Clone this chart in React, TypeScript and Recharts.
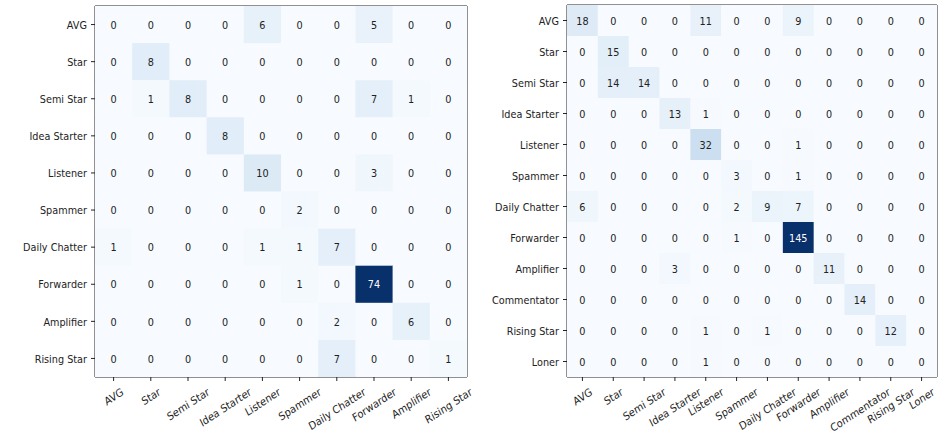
import React from "react";
import { ScatterChart, Scatter, XAxis, YAxis, ReferenceArea } from "recharts";

const leftClasses = [
  "AVG", "Star", "Semi Star", "Idea Starter", "Listener", "Spammer",
  "Daily Chatter", "Forwarder", "Amplifier", "Rising Star",
];
const leftCounts = [
  [0, 0, 0, 0, 6, 0, 0, 5, 0, 0],
  [0, 8, 0, 0, 0, 0, 0, 0, 0, 0],
  [0, 1, 8, 0, 0, 0, 0, 7, 1, 0],
  [0, 0, 0, 8, 0, 0, 0, 0, 0, 0],
  [0, 0, 0, 0, 10, 0, 0, 3, 0, 0],
  [0, 0, 0, 0, 0, 2, 0, 0, 0, 0],
  [1, 0, 0, 0, 1, 1, 7, 0, 0, 0],
  [0, 0, 0, 0, 0, 1, 0, 74, 0, 0],
  [0, 0, 0, 0, 0, 0, 2, 0, 6, 0],
  [0, 0, 0, 0, 0, 0, 7, 0, 0, 1],
];

const rightClasses = [
  "AVG", "Star", "Semi Star", "Idea Starter", "Listener", "Spammer",
  "Daily Chatter", "Forwarder", "Amplifier", "Commentator", "Rising Star", "Loner",
];
const rightCounts = [
  [18, 0, 0, 0, 11, 0, 0, 9, 0, 0, 0, 0],
  [0, 15, 0, 0, 0, 0, 0, 0, 0, 0, 0, 0],
  [0, 14, 14, 0, 0, 0, 0, 0, 0, 0, 0, 0],
  [0, 0, 0, 13, 1, 0, 0, 0, 0, 0, 0, 0],
  [0, 0, 0, 0, 32, 0, 0, 1, 0, 0, 0, 0],
  [0, 0, 0, 0, 0, 3, 0, 1, 0, 0, 0, 0],
  [6, 0, 0, 0, 0, 2, 9, 7, 0, 0, 0, 0],
  [0, 0, 0, 0, 0, 1, 0, 145, 0, 0, 0, 0],
  [0, 0, 0, 3, 0, 0, 0, 0, 11, 0, 0, 0],
  [0, 0, 0, 0, 0, 0, 0, 0, 0, 14, 0, 0],
  [0, 0, 0, 0, 1, 0, 1, 0, 0, 0, 12, 0],
  [0, 0, 0, 0, 1, 0, 0, 0, 0, 0, 0, 0],
];

const FONT = "'DejaVu Sans', sans-serif";
const FONT_SIZE = 11;
const SQUEEZE = 0.88; // glyphs are a little narrower than tall
const ANGLE = 30;
const INK = "#222";

// matplotlib "Blues" stops
const BLUES = [
  "#f7fbff", "#deebf7", "#c6dbef", "#9ecae1", "#6baed6",
  "#4292c6", "#2171b5", "#08519c", "#08306b",
];

function hexToRgb(h: string) {
  const n = parseInt(h.slice(1), 16);
  return [(n >> 16) & 255, (n >> 8) & 255, n & 255];
}

function blues(t: number) {
  const p = Math.max(0, Math.min(1, t)) * (BLUES.length - 1);
  const i = Math.min(Math.floor(p), BLUES.length - 2);
  const f = p - i;
  const a = hexToRgb(BLUES[i]);
  const b = hexToRgb(BLUES[i + 1]);
  const c = a.map((v, k) => Math.round(v + (b[k] - v) * f));
  return `rgb(${c[0]},${c[1]},${c[2]})`;
}

let measureCtx: CanvasRenderingContext2D | null = null;
function textWidth(s: string) {
  if (!measureCtx) measureCtx = document.createElement("canvas").getContext("2d");
  if (!measureCtx) return s.length * FONT_SIZE * 0.6;
  measureCtx.font = `${FONT_SIZE}px ${FONT}`;
  return measureCtx.measureText(s).width;
}

// text anchored at (x, y), narrowed horizontally and optionally rotated
function NarrowText({ x, y, anchor = "middle", rotate = 0, fill = INK, children }: any) {
  return (
    <g transform={`translate(${x} ${y}) scale(${SQUEEZE} 1) rotate(${rotate})`}>
      <text
        x={0}
        y={0}
        textAnchor={anchor}
        dominantBaseline="central"
        fontSize={FONT_SIZE}
        fontFamily={FONT}
        fill={fill}
      >
        {children}
      </text>
    </g>
  );
}

function XTick({ x, y, payload, classes }: any) {
  const label = classes[payload.value] ?? "";
  const a = (ANGLE * Math.PI) / 180;
  const w = textWidth(label);
  const h = FONT_SIZE * 1.16;
  const boxH = w * Math.sin(a) + h * Math.cos(a);
  return (
    <NarrowText x={x} y={y + boxH / 2} rotate={-ANGLE}>
      {label}
    </NarrowText>
  );
}

function YTick({ x, y, payload, classes }: any) {
  return (
    <NarrowText x={x} y={y} anchor="end">
      {classes[payload.value]}
    </NarrowText>
  );
}

interface MatrixProps {
  classes: string[];
  counts: number[][];
  width: number;
  height: number;
  margin: { top: number; right: number; bottom: number; left: number };
  yAxisWidth: number;
  xAxisHeight: number;
}

function ConfusionMatrix({
  classes,
  counts,
  width,
  height,
  margin,
  yAxisWidth,
  xAxisHeight,
}: MatrixProps) {
  const n = classes.length;
  const idx = classes.map((_, i) => i);
  const max = Math.max(...counts.flat());
  const cells = counts.flatMap((row, r) =>
    row.map((value, c) => ({ col: c, row: r, value }))
  );

  const plotW = width - margin.left - margin.right - yAxisWidth;
  const plotH = height - margin.top - margin.bottom - xAxisHeight;
  const cw = plotW / n;
  const ch = plotH / n;

  const renderCell = (props: any) => {
    const { cx, cy, payload } = props;
    const v = payload.value as number;
    return (
      <g>
        <rect
          x={cx - cw / 2}
          y={cy - ch / 2}
          width={cw + 0.5}
          height={ch + 0.5}
          fill={blues(v / max)}
        />
        <NarrowText x={cx} y={cy} fill={v > max / 2 ? "#fff" : INK}>
          {v}
        </NarrowText>
      </g>
    );
  };

  return (
    <ScatterChart width={width} height={height} margin={margin}>
      <XAxis
        type="number"
        dataKey="col"
        domain={[-0.5, n - 0.5]}
        ticks={idx}
        interval={0}
        allowDataOverflow
        height={xAxisHeight}
        tickSize={4}
        tickMargin={4}
        axisLine={false}
        tickLine={{ stroke: INK }}
        tick={<XTick classes={classes} />}
      />
      <YAxis
        type="number"
        dataKey="row"
        reversed
        domain={[-0.5, n - 0.5]}
        ticks={idx}
        interval={0}
        allowDataOverflow
        width={yAxisWidth}
        tickSize={4}
        tickMargin={4}
        axisLine={false}
        tickLine={{ stroke: INK }}
        tick={<YTick classes={classes} />}
      />
      <Scatter data={cells} shape={renderCell} isAnimationActive={false} />
      <ReferenceArea
        x1={-0.5}
        x2={n - 0.5}
        y1={-0.5}
        y2={n - 0.5}
        fill="none"
        fillOpacity={0}
        stroke={INK}
        strokeWidth={1}
        ifOverflow="visible"
      />
    </ScatterChart>
  );
}

export default function App() {
  return (
    <div
      style={{
        position: "absolute",
        left: 0,
        top: 0,
        width: 939,
        height: 433,
        background: "#fff",
        display: "flex",
        fontFamily: FONT,
      }}
    >
      <ConfusionMatrix
        classes={leftClasses}
        counts={leftCounts}
        width={480}
        height={433}
        margin={{ top: 6, right: 13, bottom: 0, left: 5 }}
        yAxisWidth={90}
        xAxisHeight={56}
      />
      <ConfusionMatrix
        classes={rightClasses}
        counts={rightCounts}
        width={459}
        height={433}
        margin={{ top: 5, right: 2, bottom: 0, left: 5 }}
        yAxisWidth={82}
        xAxisHeight={56}
      />
    </div>
  );
}
